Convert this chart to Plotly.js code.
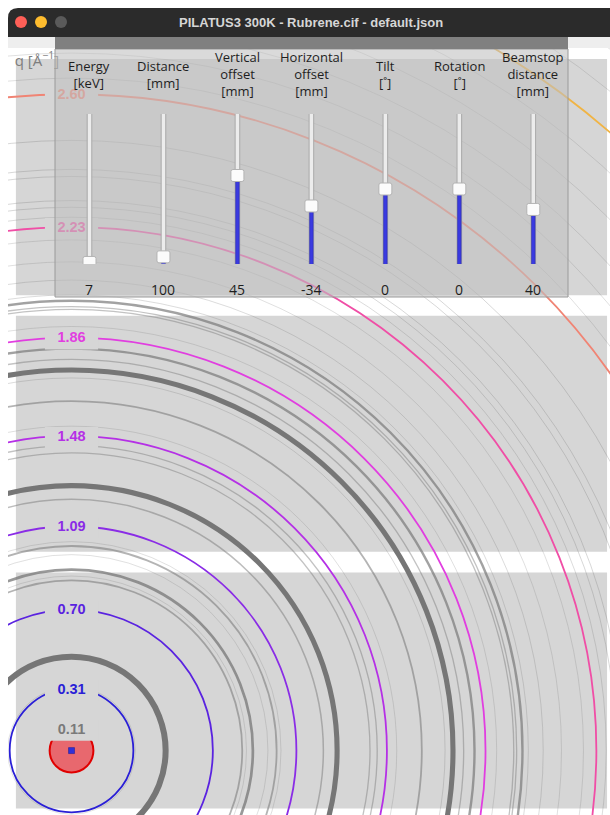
<!DOCTYPE html>
<html><head><meta charset="utf-8">
<script src="https://cdn.plot.ly/plotly-3.0.1.min.js"></script>
<style>html,body{margin:0;padding:0;background:#fff;overflow:hidden}#plot{width:610px;height:815px}</style>
</head><body><div id="plot"></div>
<script>
// ---------------- data ----------------
const windowTitle = 'PILATUS3 300K - Rubrene.cif - default.json';
const sliderNames = ['Energy<br>[keV]', 'Distance<br>[mm]', 'Vertical<br>offset<br>[mm]', 'Horizontal<br>offset<br>[mm]', 'Tilt<br>[˚]', 'Rotation<br>[˚]', 'Beamstop<br>distance<br>[mm]'];
const sliderValues = [7, 100, 45, -34, 0, 0, 40];
const sliderMin = [5, 50, -250, -150, -40, -45, 0];
const sliderMax = [200, 1100, 250, 150, 40, 45, 110];
const qLabels = [0.31, 0.70, 1.09, 1.48, 1.86, 2.23, 2.60, 2.96];
const beamstopQ = 0.11;
const ringQ = [0.32, 0.47, 0.84, 0.86, 0.89, 0.96, 1.00, 1.02, 1.21, 1.27, 1.41, 1.44, 1.52, 1.62, 1.71, 1.74, 1.78, 1.82, 1.90, 1.96, 1.97, 1.99, 2.01, 2.06, 2.12, 2.19, 2.26, 2.29, 2.31, 2.38, 2.40, 2.48, 2.64, 2.70, 2.76, 2.83, 2.90, 3.02, 3.08];
const ringI = [8, 100, 30, 10, 45, 10, 30, 10, 25, 85, 22, 22, 10, 30, 12, 85, 22, 40, 10, 22, 22, 40, 12, 12, 10, 10, 12, 14, 14, 14, 14, 14, 10, 10, 10, 10, 10, 10, 10];
const detectorPx = [487, 619];   // PILATUS3 300K
const modulePx = 195, gapPx = 17, nModules = 3, pixelSize = 0.172; // mm

// ---------------- styles ----------------
const qColors = ['#2a1fd6', '#5a23e0', '#8a2ce6', '#b530e6', '#e13ee0', '#f04ea6', '#f08474', '#f0b445'];
const W = 610, H = 815, ML = 8, MT = 48;
const PW = W - ML, PH = H - MT;
const xr = [-9.0, 76.3], yr = [-9.15, 99.80];
const xp = px => (px - ML) / PW;
const yp = py => (H - py) / PH;
const xData = px => xr[0] + (px - ML) / PW * (xr[1] - xr[0]);
const yData = py => yr[1] - (py - MT) / PH * (yr[1] - yr[0]);
const mmPerPxY = (yr[1] - yr[0]) / PH;

// ---------------- geometry ----------------
const lambda = 12.398 / sliderValues[0];
const dist = sliderValues[1];
const qToR = q => dist * Math.tan(2 * Math.asin(q * lambda / (4 * Math.PI)));
const detW = detectorPx[0] * pixelSize, detH = detectorPx[1] * pixelSize;
const detCx = -sliderValues[3], detCy = sliderValues[2];
const detL = detCx - detW / 2, detR = detCx + detW / 2, detB = detCy - detH / 2;
const modH = modulePx * pixelSize, gapH = gapPx * pixelSize;

const shapes = [];
for (let m = 0; m < nModules; m++) {
  const y0 = detB + m * (modH + gapH);
  shapes.push({type: 'rect', layer: 'below', xref: 'x', yref: 'y', x0: detL, x1: detR, y0: y0, y1: y0 + modH,
    fillcolor: '#d6d6d6', line: {width: 0}});
}
ringQ.forEach((q, i) => {
  const r = qToR(q), I = ringI[i];
  const w = Math.max(0.8, 6 * I / 100);
  const a = 0.16 + 0.84 * Math.min(1, I / 65);
  shapes.push({type: 'circle', layer: 'below', xref: 'x', yref: 'y', x0: -r, x1: r, y0: -r, y1: r,
    line: {color: `rgba(118,118,118,${a.toFixed(2)})`, width: w}});
});
qLabels.forEach((q, i) => {
  const r = qToR(q);
  shapes.push({type: 'circle', layer: 'below', xref: 'x', yref: 'y', x0: -r, x1: r, y0: -r, y1: r,
    line: {color: qColors[i], width: 1.8}});
});
const rb = qToR(beamstopQ);
shapes.push({type: 'circle', layer: 'below', xref: 'x', yref: 'y', x0: -rb, x1: rb, y0: -rb, y1: rb,
  fillcolor: 'rgba(240,57,65,0.7)', line: {color: '#e00000', width: 2}});

// window chrome (above)
shapes.push({type: 'rect', layer: 'above', xref: 'paper', yref: 'paper', x0: xp(0), x1: xp(612), y0: yp(48), y1: yp(37), fillcolor: '#eeeeee', line: {width: 0}});
shapes.push({type: 'rect', layer: 'above', xref: 'paper', yref: 'paper', x0: xp(0), x1: xp(8), y0: yp(815), y1: yp(0), fillcolor: '#ffffff', line: {width: 0}});
const rr = 10;
shapes.push({type: 'path', layer: 'above', xref: 'paper', yref: 'paper',
  path: `M ${xp(8)},${yp(37)} L ${xp(8)},${yp(8 + rr)} Q ${xp(8)},${yp(8)} ${xp(8 + rr)},${yp(8)} L ${xp(612)},${yp(8)} L ${xp(612)},${yp(37)} Z`,
  fillcolor: '#2b2b2b', line: {width: 0}});
[['#fe5f57', 21], ['#febc2e', 41], ['#5a5a5a', 61]].forEach(([c, cx]) => {
  shapes.push({type: 'circle', layer: 'above', xref: 'paper', yref: 'paper', x0: xp(cx - 6), x1: xp(cx + 6), y0: yp(28), y1: yp(16), fillcolor: c, line: {width: 0}});
});
// slider panel
shapes.push({type: 'rect', layer: 'above', xref: 'paper', yref: 'paper', x0: xp(55), x1: xp(568), y0: yp(297), y1: yp(49),
  fillcolor: 'rgba(192,192,192,0.585)', line: {color: '#9a9a9a', width: 1}});
shapes.push({type: 'rect', layer: 'above', xref: 'paper', yref: 'paper', x0: xp(55), x1: xp(568), y0: yp(49), y1: yp(37),
  fillcolor: '#808080', line: {width: 0}});
// sliders, drawn on their own axes
const travelPx = 150, slotPx = 73.97;
sliderValues.forEach((v, i) => {
  const f = (v - sliderMin[i]) / (sliderMax[i] - sliderMin[i]);
  const ext = 7.5 / travelPx;
  shapes.push({type: 'rect', layer: 'above', xref: 'x2', yref: 'y2', x0: i - 2.3 / slotPx, x1: i + 2.3 / slotPx, y0: -ext, y1: 1 + ext,
    fillcolor: '#ececec', line: {color: '#a9a9a9', width: 1}});
  shapes.push({type: 'rect', layer: 'above', xref: 'x2', yref: 'y2', x0: i - 1.8 / slotPx, x1: i + 1.8 / slotPx, y0: -ext + 0.5 / travelPx, y1: f,
    fillcolor: '#3a3ae0', line: {color: '#2a2aa8', width: 0.6}});
  const hx = 6.5 / slotPx, hy = 6 / travelPx, cr = 2;
  const x0 = i - hx, x1 = i + hx, y0 = f - hy, y1 = f + hy, cx = cr / slotPx, cy = cr / travelPx;
  shapes.push({type: 'path', layer: 'above', xref: 'x2', yref: 'y2',
    path: `M ${x0 + cx},${y0} L ${x1 - cx},${y0} Q ${x1},${y0} ${x1},${y0 + cy} L ${x1},${y1 - cy} Q ${x1},${y1} ${x1 - cx},${y1} L ${x0 + cx},${y1} Q ${x0},${y1} ${x0},${y1 - cy} L ${x0},${y0 + cy} Q ${x0},${y0} ${x0 + cx},${y0} Z`,
    fillcolor: '#fbfbfb', line: {color: '#b3b3b3', width: 1}});
});

// ---------------- traces ----------------
const labelQ = qLabels.concat([beamstopQ]).filter(q => qToR(q) < yr[1] - 1);
const labelY = labelQ.map(qToR);
const labelTxt = labelQ.map(q => q.toFixed(2));
const labelCol = labelQ.map(q => q === beamstopQ ? '#7a7a7a' : qColors[qLabels.indexOf(q)]);
const traces = [
  {type: 'scatter', mode: 'markers', x: labelY.map(() => 0), y: labelY.map(y => y - 1.5 * mmPerPxY),
    marker: {symbol: 'line-ew', size: 38, line: {color: '#d6d6d6', width: 21}}, hoverinfo: 'skip', showlegend: false},
  {type: 'scatter', mode: 'text', x: labelY.map(() => 0), y: labelY.map(y => y - 1.2 * mmPerPxY), text: labelTxt, textposition: 'middle center',
    textfont: {family: 'Liberation Sans, Arial, sans-serif', size: 14.5, weight: 700, color: labelCol}, hoverinfo: 'skip', showlegend: false},
  {type: 'scatter', mode: 'markers', x: [0], y: [0], marker: {symbol: 'square', size: 6, color: '#3030d8', line: {color: '#1a1a90', width: 0.5}}, hoverinfo: 'skip', showlegend: false},
  {type: 'scatter', mode: 'text', x: [xData(37)], y: [yData(62)], text: ['q [Å<sup>−1</sup>]'], textposition: 'middle center',
    textfont: {family: 'Open Sans, sans-serif', size: 15, color: '#7e7e7e'}, hoverinfo: 'skip', showlegend: false},
  {type: 'scatter', mode: 'markers', xaxis: 'x2', yaxis: 'y2', x: [0], y: [0.5], marker: {opacity: 0, size: 1}, hoverinfo: 'skip', showlegend: false}
];

// ---------------- annotations ----------------
const annotations = [
  {xref: 'paper', yref: 'paper', x: xp(311), y: yp(22.5), text: windowTitle, showarrow: false, xanchor: 'center', yanchor: 'middle',
    font: {family: 'Liberation Sans, Arial, sans-serif', size: 13, weight: 700, color: '#d6d6d6'}}
];
sliderNames.forEach((n, i) => {
  annotations.push({xref: 'x2', yref: 'paper', x: i, y: yp(74), text: n, showarrow: false, xanchor: 'center', yanchor: 'middle', align: 'center',
    font: {family: 'Open Sans, sans-serif', size: 13, color: '#1e1e1e'}});
  annotations.push({xref: 'x2', yref: 'paper', x: i, y: yp(289), text: String(sliderValues[i]), showarrow: false, xanchor: 'center', yanchor: 'middle',
    font: {family: 'Open Sans, sans-serif', size: 14, color: '#1e1e1e'}});
});

const layout = {
  width: W, height: H, margin: {l: ML, r: 0, t: MT, b: 0, pad: 0},
  paper_bgcolor: '#ffffff', plot_bgcolor: 'rgba(0,0,0,0)', showlegend: false,
  xaxis: {range: xr, visible: false, fixedrange: true, domain: [0, 1]},
  yaxis: {range: yr, visible: false, fixedrange: true, domain: [0, 1]},
  xaxis2: {range: [-0.5, 6.5], visible: false, anchor: 'y2', domain: [xp(89.5 - slotPx / 2), xp(533.3 + slotPx / 2)]},
  yaxis2: {range: [0, 1], visible: false, anchor: 'x2', domain: [yp(264), yp(114)]},
  shapes: shapes, annotations: annotations
};
Plotly.newPlot('plot', traces, layout, {staticPlot: true, displayModeBar: false});
</script></body></html>
